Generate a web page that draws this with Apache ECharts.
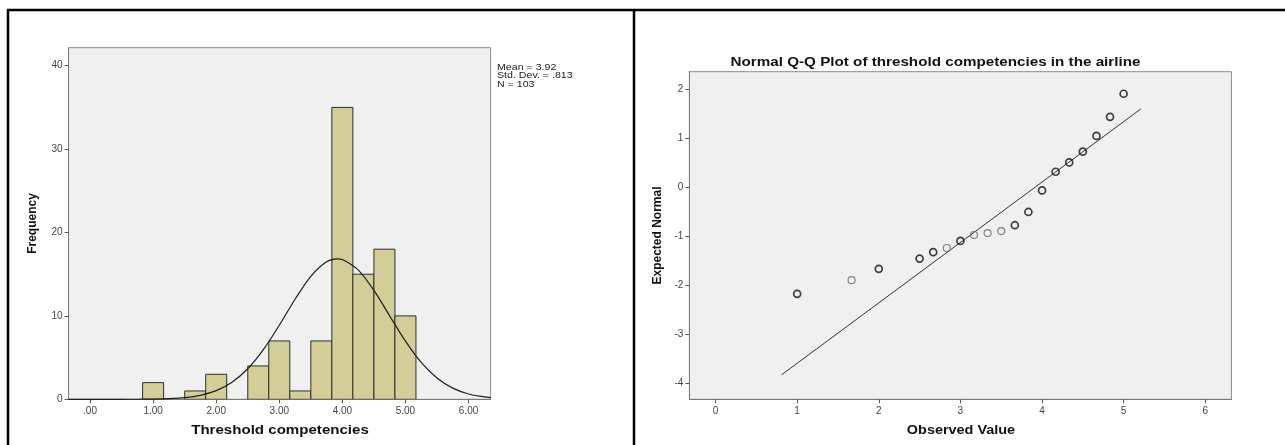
<!DOCTYPE html>
<html>
<head>
<meta charset="utf-8">
<script src="https://cdn.jsdelivr.net/npm/echarts@6/dist/echarts.min.js"></script>
<style>
html,body{margin:0;padding:0;background:#fff;}
#chart{width:1285px;height:445px;}
</style>
</head>
<body>
<div id="chart"></div>
<script>
// ---------- Histogram data ----------
const histBinCenters = [1.0, 1.333, 1.667, 2.0, 2.333, 2.667, 3.0, 3.333, 3.667, 4.0, 4.333, 4.667, 5.0];
const histCounts     = [2,   0,     1,     3,   0,     4,     7,   1,     7,     35,  15,    18,    10];
const histBinWidth = 1 / 3;
const histXTicks = [0, 1, 2, 3, 4, 5, 6];
const histYTicks = [0, 10, 20, 30, 40];
// normal curve (Mean 3.92, SD .813, N 103)
const curveX = [-0.34, 0.5, 0.75, 1.0, 1.25, 1.5, 1.75, 2.0, 2.25, 2.5, 2.75, 3.0, 3.25, 3.5, 3.75, 3.92, 4.0, 4.25, 4.5, 4.75, 5.0, 5.25, 5.5, 5.75, 6.0, 6.25, 6.35];
const curveY = [0, 0.001, 0.008, 0.027, 0.077, 0.20, 0.48, 1.04, 2.04, 3.66, 5.98, 8.88, 12.0, 14.75, 16.49, 16.85, 16.77, 15.52, 13.06, 10.01, 6.97, 4.42, 2.55, 1.34, 0.64, 0.28, 0.19];
const statsLines = ['Mean = 3.92', 'Std. Dev. = .813', 'N = 103'];
const histXTitle = 'Threshold competencies';
const histYTitle = 'Frequency';

// ---------- Q-Q data ----------
const qqObserved = [1.0, 1.667, 2.0, 2.5, 2.667, 2.833, 3.0, 3.167, 3.333, 3.5, 3.667, 3.833, 4.0, 4.167, 4.333, 4.5, 4.667, 4.833, 5.0];
const qqExpected = [-2.18, -1.90, -1.67, -1.46, -1.33, -1.245, -1.10, -0.98, -0.94, -0.90, -0.78, -0.51, -0.07, 0.31, 0.50, 0.72, 1.04, 1.43, 1.90];
const qqLight    = [0, 1, 0, 0, 0, 1, 0, 1, 1, 1, 0, 0, 0, 0, 0, 0, 0, 0, 0];
const qqLineX = [0.81, 5.21];
const qqLineY = [-3.83, 1.59];
const qqXTicks = [0, 1, 2, 3, 4, 5, 6];
const qqYTicks = [-4, -3, -2, -1, 0, 1, 2];
const qqTitle = 'Normal Q-Q Plot of threshold competencies in the airline';
const qqXTitle = 'Observed Value';
const qqYTitle = 'Expected Normal';

const FONT = 'Liberation Sans';
const chart = echarts.init(document.getElementById('chart'), null, {renderer: 'canvas'});

const histData = histBinCenters.map((c, i) => [c, histCounts[i]]);
const curveData = curveX.map((x, i) => [x, curveY[i]]);
const qqDark = [], qqLt = [];
qqObserved.forEach((x, i) => (qqLight[i] ? qqLt : qqDark).push([x, qqExpected[i]]));
const qqLine = qqLineX.map((x, i) => [x, qqLineY[i]]);

const axisCommon = {
  axisLine: {show: true, onZero: false, lineStyle: {color: '#7a7a7a', width: 1}},
  splitLine: {show: false}
};
function lbl(fmt, margin, vals) {
  return {show: true, color: '#444', fontFamily: FONT, fontSize: 10, margin: margin, formatter: fmt, customValues: vals};
}
function tick(vals) {
  return {show: true, length: 4, inside: false, lineStyle: {color: '#555'}, customValues: vals};
}
function nameStyle(size) {
  return {fontFamily: FONT, fontWeight: 'bold', color: '#111', fontSize: size};
}
function wideText(text, x, y, size, sx) {
  return {
    type: 'text', x: x, y: y, scaleX: sx, z: 100,
    style: {text: text, fontFamily: FONT, fontWeight: 'bold', fontSize: size, fill: '#111', align: 'center', verticalAlign: 'middle'}
  };
}

const option = {
  animation: false,
  backgroundColor: '#ffffff',
  grid: [
    {left: 68.6, top: 47.7, width: 422, height: 351.6, show: true, backgroundColor: '#f0f0f0', borderColor: '#8a8a8a', borderWidth: 1},
    {left: 689.4, top: 71.7, width: 542, height: 327.6, show: true, backgroundColor: '#f0f0f0', borderColor: '#8a8a8a', borderWidth: 1}
  ],
  xAxis: [
    Object.assign({}, axisCommon, {
      gridIndex: 0, type: 'value', min: -0.34, max: 6.35, position: 'bottom',
      axisTick: tick(histXTicks),
      axisLabel: lbl(v => v === 0 ? '.00' : v.toFixed(2), 7, histXTicks)
    }),
    Object.assign({}, axisCommon, {
      gridIndex: 1, type: 'value', min: -0.32, max: 6.32, position: 'bottom',
      axisTick: tick(qqXTicks),
      axisLabel: lbl(v => String(v), 7, qqXTicks)
    })
  ],
  yAxis: [
    Object.assign({}, axisCommon, {
      gridIndex: 0, type: 'value', min: 0, max: 42.16, position: 'left',
      name: histYTitle, nameLocation: 'middle', nameGap: 30, nameTextStyle: nameStyle(12),
      axisTick: tick(histYTicks),
      axisLabel: lbl(v => String(v), 6, histYTicks)
    }),
    Object.assign({}, axisCommon, {
      gridIndex: 1, type: 'value', min: -4.33, max: 2.35, position: 'left',
      name: qqYTitle, nameLocation: 'middle', nameGap: 26, nameTextStyle: nameStyle(12),
      axisTick: tick(qqYTicks),
      axisLabel: lbl(v => String(v), 6, qqYTicks)
    })
  ],
  series: [
    {
      type: 'custom', xAxisIndex: 0, yAxisIndex: 0, data: histData, clip: true,
      renderItem: function (params, api) {
        const c = api.value(0), n = api.value(1);
        if (!n) return null;
        const p0 = api.coord([c - histBinWidth / 2, n]);
        const p1 = api.coord([c + histBinWidth / 2, 0]);
        return {
          type: 'rect',
          shape: {x: p0[0], y: p0[1], width: p1[0] - p0[0], height: p1[1] - p0[1]},
          style: {fill: '#d3ce97', stroke: '#2e2e2e', lineWidth: 1}
        };
      }
    },
    {
      type: 'line', xAxisIndex: 0, yAxisIndex: 0, data: curveData, smooth: 0.3,
      showSymbol: false, clip: true, lineStyle: {color: '#1e1e1e', width: 1.2}, z: 5
    },
    {
      type: 'line', xAxisIndex: 1, yAxisIndex: 1, data: qqLine, showSymbol: false,
      lineStyle: {color: '#333', width: 1}, z: 3
    },
    {
      type: 'scatter', xAxisIndex: 1, yAxisIndex: 1, data: qqDark, symbol: 'circle', symbolSize: 7,
      itemStyle: {color: 'rgba(0,0,0,0)', borderColor: '#111', borderWidth: 1.7}, z: 4
    },
    {
      type: 'scatter', xAxisIndex: 1, yAxisIndex: 1, data: qqLt, symbol: 'circle', symbolSize: 7,
      itemStyle: {color: 'rgba(0,0,0,0)', borderColor: '#666', borderWidth: 1.2}, z: 4
    }
  ],
  graphic: [
    {type: 'line', shape: {x1: 7, y1: 10, x2: 1285, y2: 10}, style: {stroke: '#000', lineWidth: 2.5}, z: 100},
    {type: 'line', shape: {x1: 8, y1: 9, x2: 8, y2: 445}, style: {stroke: '#000', lineWidth: 2.5}, z: 100},
    {type: 'line', shape: {x1: 634, y1: 9, x2: 634, y2: 445}, style: {stroke: '#000', lineWidth: 2.5}, z: 100},
    {type: 'text', x: 497, y: 63, scaleX: 1.18, z: 100,
     style: {text: statsLines.join('\n'), fontFamily: FONT, fontWeight: 'normal', fontSize: 9, lineHeight: 8.5, fill: '#222'}},
    wideText(qqTitle, 935.5, 62, 13, 1.17),
    wideText(histXTitle, 280, 430, 13, 1.16),
    wideText(qqXTitle, 961, 430, 13, 1.11)
  ]
};
chart.setOption(option);
</script>
</body>
</html>
